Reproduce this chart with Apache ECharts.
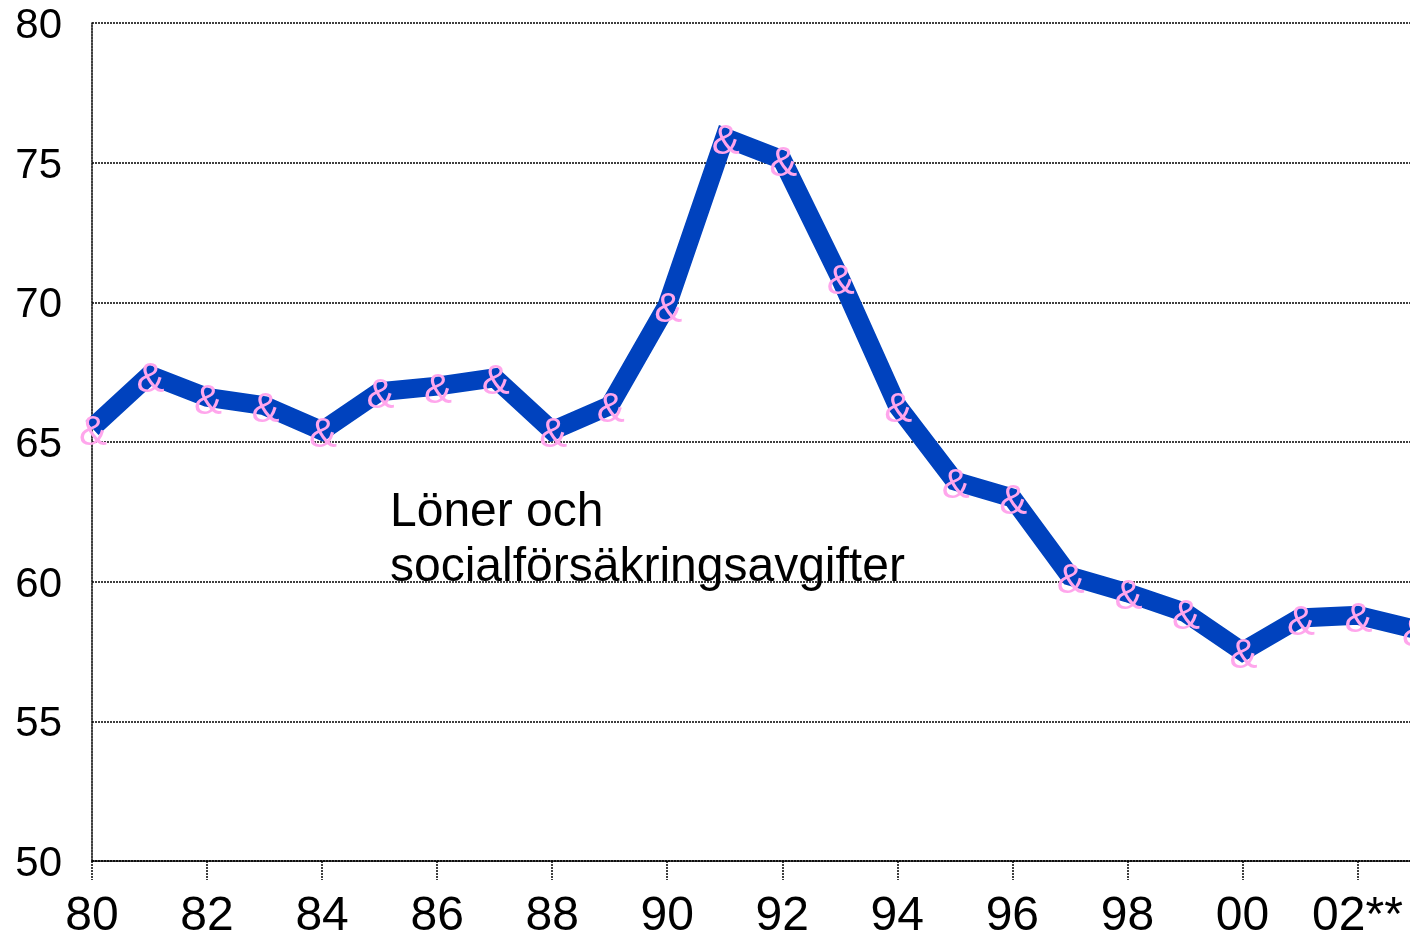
<!DOCTYPE html>
<html>
<head>
<meta charset="utf-8">
<script src="https://cdn.jsdelivr.net/npm/echarts@6/dist/echarts.min.js"></script>
<style>
html,body{margin:0;padding:0;background:#fff;}
#chart{width:1410px;height:937px;}
</style>
</head>
<body>
<div id="chart"></div>
<script>
// Years 1980..2003 as category labels (2002 marked with **)
const categories = ['80','81','82','83','84','85','86','87','88','89','90','91','92','93','94','95','96','97','98','99','00','01','02**','03'];
const wageShare = [65.5,67.4,66.6,66.3,65.4,66.8,67.0,67.3,65.4,66.3,69.9,75.9,75.1,70.9,66.3,63.6,63.0,60.2,59.6,58.9,57.5,58.7,58.8,58.3];
const yTicks = {min: 50, max: 80, interval: 5};
const annotation = 'Löner och\nsocialförsäkringsavgifter';

const chart = echarts.init(document.getElementById('chart'), null, {renderer: 'canvas'});
chart.setOption({
  animation: false,
  backgroundColor: '#ffffff',
  grid: {left: 92, right: -5, top: 23, bottom: 76, containLabel: false, outerBoundsMode: 'none'},
  xAxis: {
    type: 'category',
    data: categories,
    boundaryGap: false,
    axisLine: {show: true, lineStyle: {color: '#000', width: 1.5, type: [2, 1]}},
    axisTick: {show: true, interval: 1, length: 19, lineStyle: {color: '#000', width: 1.5, type: [2, 1]}},
    axisLabel: {interval: 1, color: '#000', fontSize: 48, fontFamily: 'Liberation Sans Narrow, Liberation Sans, Arial, sans-serif', margin: 32},
    splitLine: {show: false}
  },
  yAxis: {
    type: 'value',
    min: yTicks.min, max: yTicks.max, interval: yTicks.interval,
    axisLine: {show: true, lineStyle: {color: '#000', width: 1.5, type: [2, 1]}},
    axisTick: {show: false},
    axisLabel: {
      color: '#000', margin: 30,
      formatter: '{v|{value}}',
      rich: {v: {fontSize: 42, fontFamily: 'Liberation Sans, Arial, sans-serif', color: '#000', padding: [7, 0, 0, 0]}}
    },
    splitLine: {show: true, lineStyle: {color: '#000', width: 1.5, type: [2, 1]}}
  },
  series: [{
    type: 'line',
    data: wageShare,
    symbol: 'circle',
    symbolSize: 1,
    itemStyle: {color: 'rgba(0,0,0,0)'},
    lineStyle: {color: '#0042BE', width: 19, join: 'miter', cap: 'butt'},
    label: {
      show: true, position: 'inside', formatter: '&',
      color: '#FFA6EC', fontSize: 42,
      fontFamily: 'Liberation Sans Narrow, Liberation Sans, Arial, sans-serif',
      offset: [1, 5]
    },
    z: 3
  }],
  graphic: [{
    type: 'text', left: 390, top: 485,
    style: {text: annotation, fill: '#000', fontSize: 48, lineHeight: 55, fontFamily: 'Liberation Sans, Arial, sans-serif'}
  }]
});
</script>
</body>
</html>
